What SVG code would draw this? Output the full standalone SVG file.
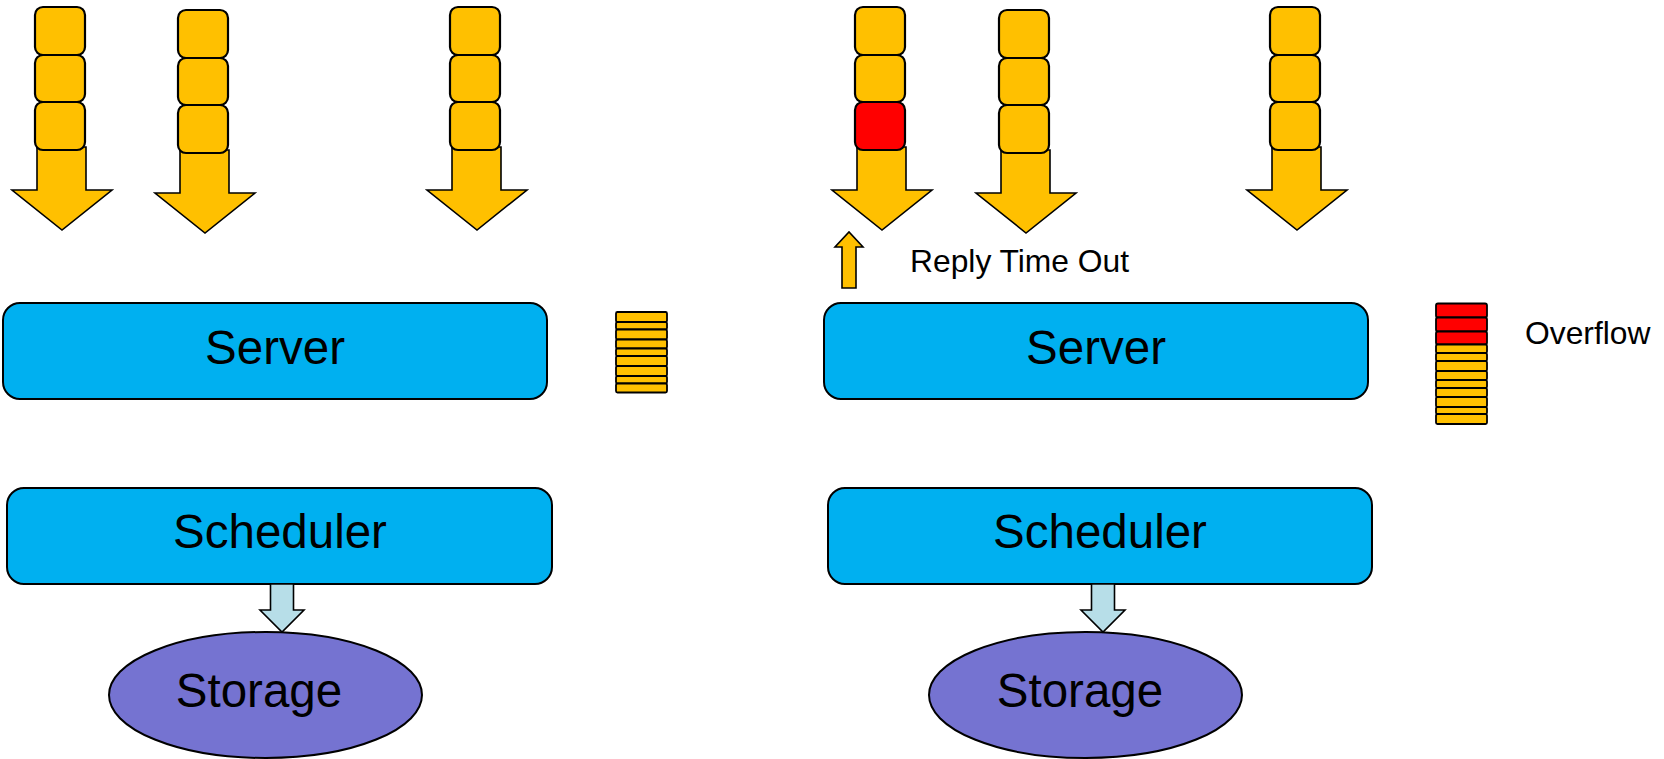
<svg xmlns="http://www.w3.org/2000/svg" width="1664" height="759" viewBox="0 0 1664 759">
  <defs>
    <style>
      .bg { fill: #ffffff; }
      .arrow { fill: #FFC000; stroke: #000; stroke-width: 1.6; stroke-linejoin: miter; }
      .blk { fill: #FFC000; stroke: #000; stroke-width: 2.2; }
      .blk-red { fill: #FF0000; stroke: #000; stroke-width: 2.2; }
      .strip { fill: #FFC000; stroke: #000; stroke-width: 1.8; }
      .strip-red { fill: #FF0000; stroke: #000; stroke-width: 1.8; }
      .box { fill: #00B0F0; stroke: #000; stroke-width: 2; }
      .store { fill: #7573D1; stroke: #000; stroke-width: 2; }
      .link { fill: #B7DEE8; stroke: #000; stroke-width: 1.6; }
      .big { font-family: "Liberation Sans", Arial, sans-serif; font-size: 47.5px; fill: #000; text-anchor: middle; }
      .note { font-family: "Liberation Sans", Arial, sans-serif; font-size: 31.8px; fill: #000; }
    </style>
    <!-- one incoming request stream: broad arrow with queued requests on its tail -->
    <g id="stream">
      <polygon class="arrow" points="25,140 74,140 74,183 100,183 50,223 0,183 25,183"/>
      <rect class="blk" x="23" y="0" width="50" height="48" rx="8"/>
      <rect class="blk" x="23" y="48" width="50" height="47" rx="8"/>
    </g>
  </defs>

  <rect class="bg" x="0" y="0" width="1664" height="759"/>

  <!-- left setup: request streams -->
  <g id="stream-l1" transform="translate(12,7)">
    <use href="#stream"/>
    <rect class="blk" x="23" y="95" width="50" height="48" rx="8"/>
  </g>
  <g id="stream-l2" transform="translate(155,10)">
    <use href="#stream"/>
    <rect class="blk" x="23" y="95" width="50" height="48" rx="8"/>
  </g>
  <g id="stream-l3" transform="translate(427,7)">
    <use href="#stream"/>
    <rect class="blk" x="23" y="95" width="50" height="48" rx="8"/>
  </g>

  <!-- left setup: server, queue, scheduler, storage -->
  <g id="server-l">
    <rect class="box" x="3" y="303" width="544" height="96" rx="17"/>
    <text class="big" x="275" y="364">Server</text>
  </g>
  <g id="queue-l">
    <rect class="strip" x="616" y="312" width="51" height="10" rx="1.5"/>
    <rect class="strip" x="616" y="322" width="51" height="7.5" rx="1.5"/>
    <rect class="strip" x="616" y="329.5" width="51" height="10" rx="1.5"/>
    <rect class="strip" x="616" y="339.5" width="51" height="9" rx="1.5"/>
    <rect class="strip" x="616" y="348.5" width="51" height="7.5" rx="1.5"/>
    <rect class="strip" x="616" y="356" width="51" height="10" rx="1.5"/>
    <rect class="strip" x="616" y="366" width="51" height="10" rx="1.5"/>
    <rect class="strip" x="616" y="376" width="51" height="7.5" rx="1.5"/>
    <rect class="strip" x="616" y="383.5" width="51" height="9" rx="1.5"/>
  </g>
  <g id="scheduler-l">
    <rect class="box" x="7" y="488" width="545" height="96" rx="17"/>
    <text class="big" x="280" y="548">Scheduler</text>
  </g>
  <g id="storage-l">
    <ellipse class="store" cx="265.5" cy="695" rx="156.5" ry="63"/>
    <text class="big" x="259" y="707">Storage</text>
  </g>

  <!-- right setup: request streams, one with a timed-out request -->
  <g id="stream-r1" transform="translate(832,7)">
    <use href="#stream"/>
    <rect class="blk-red" x="23" y="95" width="50" height="48" rx="8"/>
  </g>
  <g id="stream-r2" transform="translate(976,10)">
    <use href="#stream"/>
    <rect class="blk" x="23" y="95" width="50" height="48" rx="8"/>
  </g>
  <g id="stream-r3" transform="translate(1247,7)">
    <use href="#stream"/>
    <rect class="blk" x="23" y="95" width="50" height="48" rx="8"/>
  </g>

  <!-- right setup: server, overflowing queue, scheduler, storage -->
  <g id="server-r">
    <rect class="box" x="824" y="303" width="544" height="96" rx="17"/>
    <text class="big" x="1096" y="364">Server</text>
  </g>
  <g id="queue-r">
    <rect class="strip-red" x="1436" y="303.5" width="51" height="14" rx="2"/>
    <rect class="strip-red" x="1436" y="317.5" width="51" height="14" rx="2"/>
    <rect class="strip-red" x="1436" y="331.5" width="51" height="13" rx="2"/>
    <rect class="strip" x="1436" y="344.5" width="51" height="8.5" rx="1.5"/>
    <rect class="strip" x="1436" y="353" width="51" height="8" rx="1.5"/>
    <rect class="strip" x="1436" y="361" width="51" height="10" rx="1.5"/>
    <rect class="strip" x="1436" y="371" width="51" height="9" rx="1.5"/>
    <rect class="strip" x="1436" y="380" width="51" height="8" rx="1.5"/>
    <rect class="strip" x="1436" y="388" width="51" height="9" rx="1.5"/>
    <rect class="strip" x="1436" y="397" width="51" height="10" rx="1.5"/>
    <rect class="strip" x="1436" y="407" width="51" height="7" rx="1.5"/>
    <rect class="strip" x="1436" y="414" width="51" height="10" rx="1.5"/>
  </g>
  <g id="overflow-label">
    <text class="note" x="1525" y="344">Overflow</text>
  </g>
  <g id="scheduler-r">
    <rect class="box" x="828" y="488" width="544" height="96" rx="17"/>
    <text class="big" x="1100" y="548">Scheduler</text>
  </g>
  <g id="storage-r">
    <ellipse class="store" cx="1085.5" cy="695" rx="156.5" ry="63"/>
    <text class="big" x="1080" y="707">Storage</text>
  </g>

  <!-- connectors -->
  <g id="connectors">
    <!-- scheduler to storage -->
    <polygon class="link" points="270.5,584 293.5,584 293.5,610 304,610 282,632 260,610 270.5,610"/>
    <polygon class="link" points="1091.5,584 1114.5,584 1114.5,610 1125,610 1103,632 1081,610 1091.5,610"/>
    <!-- reply time-out going back up -->
    <polygon class="arrow" points="842,288 856,288 856,247 863,247 849,232 835,247 842,247"/>
  </g>
  <g id="timeout-label">
    <text class="note" x="910" y="272">Reply Time Out</text>
  </g>
</svg>
